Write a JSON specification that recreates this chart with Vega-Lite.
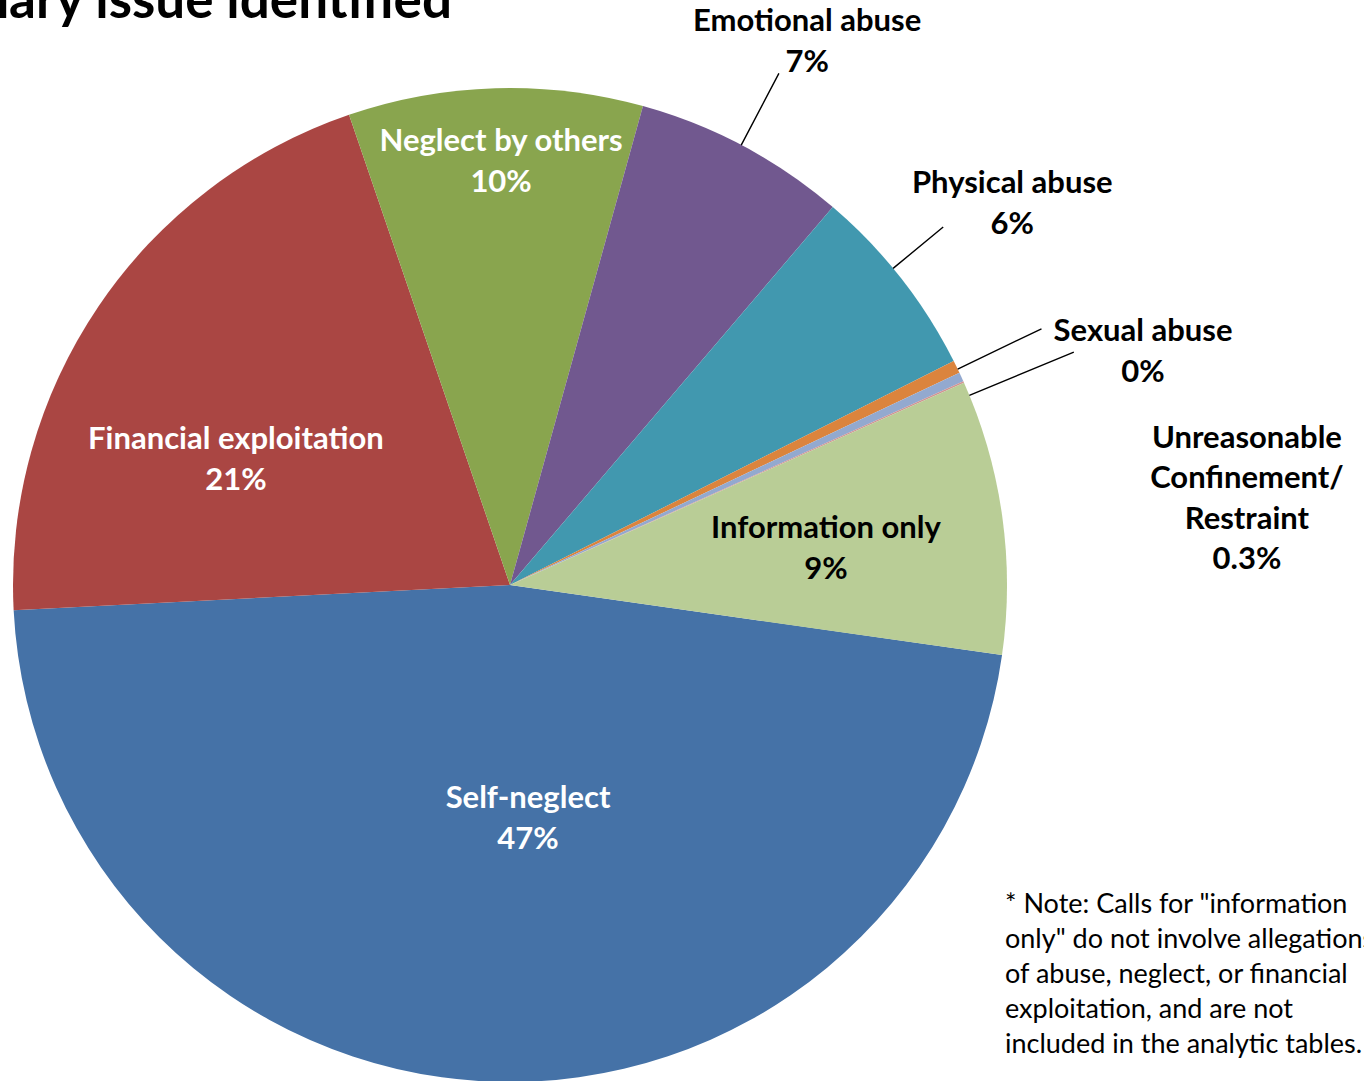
{
  "$schema": "https://vega.github.io/schema/vega-lite/v6.json",
  "width": 1020,
  "height": 1170,
  "autosize": {"type": "none"},
  "padding": {"left": 0, "top": 0, "right": 344, "bottom": -89},
  "background": "white",
  "config": {"view": {"stroke": null}, "font": "Lato"},
  "datasets": {
    "slices": [
      {"ord": 1, "category": "Self-neglect", "value": 46.94, "label": "Self-neglect\n47%"},
      {"ord": 2, "category": "Financial exploitation", "value": 20.56, "label": "Financial exploitation\n21%"},
      {"ord": 3, "category": "Neglect by others", "value": 9.56, "label": "Neglect by others\n10%"},
      {"ord": 4, "category": "Emotional abuse", "value": 6.94, "label": "Emotional abuse\n7%"},
      {"ord": 5, "category": "Physical abuse", "value": 6.31, "label": "Physical abuse\n6%"},
      {"ord": 6, "category": "Sexual abuse", "value": 0.42, "label": "Sexual abuse\n0%"},
      {"ord": 7, "category": "Unreasonable Confinement/Restraint", "value": 0.3, "label": "Unreasonable\nConfinement/\nRestraint\n0.3%"},
      {"ord": 8, "category": "Other", "value": 0.05, "label": ""},
      {"ord": 9, "category": "Information only", "value": 8.92, "label": "Information only\n9%"}
    ],
    "note": [
      {"text": ["* Note: Calls for \"information", "only\" do not involve allegations", "of abuse, neglect, or financial", "exploitation, and are not", "included in the analytic tables."]}
    ],
    "heading": [
      {"text": "Primary issue identified"}
    ]
  },
  "layer": [
    {
      "data": {"name": "slices"},
      "transform": [
        {"stack": "value", "groupby": [], "sort": [{"field": "ord", "order": "ascending"}], "as": ["v0", "v1"]},
        {"calculate": "(datum.v0 + datum.v1) / 2", "as": "mid"}
      ],
      "layer": [
        {
          "mark": {"type": "arc", "outerRadius": 497},
          "encoding": {
            "theta": {"field": "v0", "type": "quantitative", "stack": null, "scale": {"domain": [0, 100], "range": [1.7122, 7.9954], "nice": false, "zero": false}},
            "theta2": {"field": "v1"},
            "color": {"field": "category", "type": "nominal", "legend": null,
              "scale": {"domain": ["Self-neglect", "Financial exploitation", "Neglect by others", "Emotional abuse", "Physical abuse", "Sexual abuse", "Unreasonable Confinement/Restraint", "Other", "Information only"],
                        "range": ["#4572A7", "#AA4643", "#89A54E", "#71588F", "#4198AF", "#DB843D", "#93A9CF", "#D19392", "#B9CD96"]}}
          }
        },
        {
          "transform": [{"filter": "datum.category === 'Emotional abuse'"}],
          "mark": {"type": "arc", "innerRadius": 497, "outerRadius": 578, "padAngle": 3, "filled": false, "stroke": "black", "strokeWidth": 1.4, "thetaOffset": -0.01},
          "encoding": {"theta": {"field": "v0", "type": "quantitative", "stack": null}, "theta2": {"field": "v1"}}
        },
        {
          "transform": [{"filter": "datum.category === 'Physical abuse'"}],
          "mark": {"type": "arc", "innerRadius": 497, "outerRadius": 562, "padAngle": 3, "filled": false, "stroke": "black", "strokeWidth": 1.4, "thetaOffset": -0.05},
          "encoding": {"theta": {"field": "v0", "type": "quantitative", "stack": null}, "theta2": {"field": "v1"}}
        },
        {
          "transform": [{"filter": "datum.category === 'Sexual abuse'"}],
          "mark": {"type": "arc", "innerRadius": 497, "outerRadius": 590, "padAngle": 3, "filled": false, "stroke": "black", "strokeWidth": 1.4, "thetaOffset": 0.01},
          "encoding": {"theta": {"field": "v0", "type": "quantitative", "stack": null}, "theta2": {"field": "v1"}}
        },
        {
          "transform": [{"filter": "datum.category === 'Unreasonable Confinement/Restraint'"}],
          "mark": {"type": "arc", "innerRadius": 497, "outerRadius": 610, "padAngle": 3, "filled": false, "stroke": "black", "strokeWidth": 1.4, "thetaOffset": 0.08},
          "encoding": {"theta": {"field": "v0", "type": "quantitative", "stack": null}, "theta2": {"field": "v1"}}
        },
        {
          "transform": [{"filter": "datum.category === 'Self-neglect'"}],
          "mark": {"type": "text", "fontSize": 31, "fontWeight": "bold", "font": "Lato", "lineBreak": "\n", "lineHeight": 41, "align": "center", "baseline": "middle", "color": "white", "dx": 28.6, "dy": -19},
          "encoding": {"theta": {"field": "mid", "type": "quantitative", "stack": null}, "radius": {"value": 233}, "text": {"field": "label", "type": "nominal"}}
        },
        {
          "transform": [{"filter": "datum.category === 'Financial exploitation'"}],
          "mark": {"type": "text", "fontSize": 31, "fontWeight": "bold", "font": "Lato", "lineBreak": "\n", "lineHeight": 41, "align": "center", "baseline": "middle", "color": "white", "dx": -24, "dy": 24},
          "encoding": {"theta": {"field": "mid", "type": "quantitative", "stack": null}, "radius": {"value": 302}, "text": {"field": "label", "type": "nominal"}}
        },
        {
          "transform": [{"filter": "datum.category === 'Neglect by others'"}],
          "mark": {"type": "text", "fontSize": 31, "fontWeight": "bold", "font": "Lato", "lineBreak": "\n", "lineHeight": 41, "align": "center", "baseline": "middle", "color": "white", "dx": 3.6, "dy": -18},
          "encoding": {"theta": {"field": "mid", "type": "quantitative", "stack": null}, "radius": {"value": 425}, "text": {"field": "label", "type": "nominal"}}
        },
        {
          "transform": [{"filter": "datum.category === 'Information only'"}],
          "mark": {"type": "text", "fontSize": 31, "fontWeight": "bold", "font": "Lato", "lineBreak": "\n", "lineHeight": 41, "align": "center", "baseline": "middle", "color": "black", "dx": 1, "dy": -12},
          "encoding": {"theta": {"field": "mid", "type": "quantitative", "stack": null}, "radius": {"value": 318}, "text": {"field": "label", "type": "nominal"}}
        },
        {
          "transform": [{"filter": "datum.category === 'Emotional abuse'"}],
          "mark": {"type": "text", "fontSize": 31, "fontWeight": "bold", "font": "Lato", "lineBreak": "\n", "lineHeight": 41, "align": "center", "baseline": "middle", "color": "black", "dx": 6, "dy": -16},
          "encoding": {"theta": {"field": "mid", "type": "quantitative", "stack": null}, "radius": {"value": 620}, "text": {"field": "label", "type": "nominal"}}
        },
        {
          "transform": [{"filter": "datum.category === 'Physical abuse'"}],
          "mark": {"type": "text", "fontSize": 31, "fontWeight": "bold", "font": "Lato", "lineBreak": "\n", "lineHeight": 41, "align": "center", "baseline": "middle", "color": "black", "dx": 6, "dy": -11},
          "encoding": {"theta": {"field": "mid", "type": "quantitative", "stack": null}, "radius": {"value": 631}, "text": {"field": "label", "type": "nominal"}}
        },
        {
          "transform": [{"filter": "datum.category === 'Sexual abuse'"}],
          "mark": {"type": "text", "fontSize": 31, "fontWeight": "bold", "font": "Lato", "lineBreak": "\n", "lineHeight": 41, "align": "center", "baseline": "middle", "color": "black", "dx": 26.5, "dy": 43},
          "encoding": {"theta": {"field": "mid", "type": "quantitative", "stack": null}, "radius": {"value": 675}, "text": {"field": "label", "type": "nominal"}}
        },
        {
          "transform": [{"filter": "datum.category === 'Unreasonable Confinement/Restraint'"}],
          "mark": {"type": "text", "fontSize": 31, "fontWeight": "bold", "font": "Lato", "lineBreak": "\n", "lineHeight": 40.5, "align": "center", "baseline": "middle", "color": "black", "dx": 63, "dy": 164},
          "encoding": {"theta": {"field": "mid", "type": "quantitative", "stack": null}, "radius": {"value": 742}, "text": {"field": "label", "type": "nominal"}}
        }
      ]
    },
    {
      "data": {"name": "note"},
      "mark": {"type": "text", "align": "left", "baseline": "top", "fontSize": 27, "lineHeight": 35, "font": "Lato", "color": "black", "x": 1005, "y": 892},
      "encoding": {"text": {"field": "text", "type": "nominal"}}
    },
    {
      "data": {"name": "heading"},
      "mark": {"type": "text", "align": "right", "baseline": "alphabetic", "fontSize": 53, "fontWeight": "bold", "font": "Lato", "color": "black", "x": 452, "y": 18},
      "encoding": {"text": {"field": "text", "type": "nominal"}}
    }
  ]
}
